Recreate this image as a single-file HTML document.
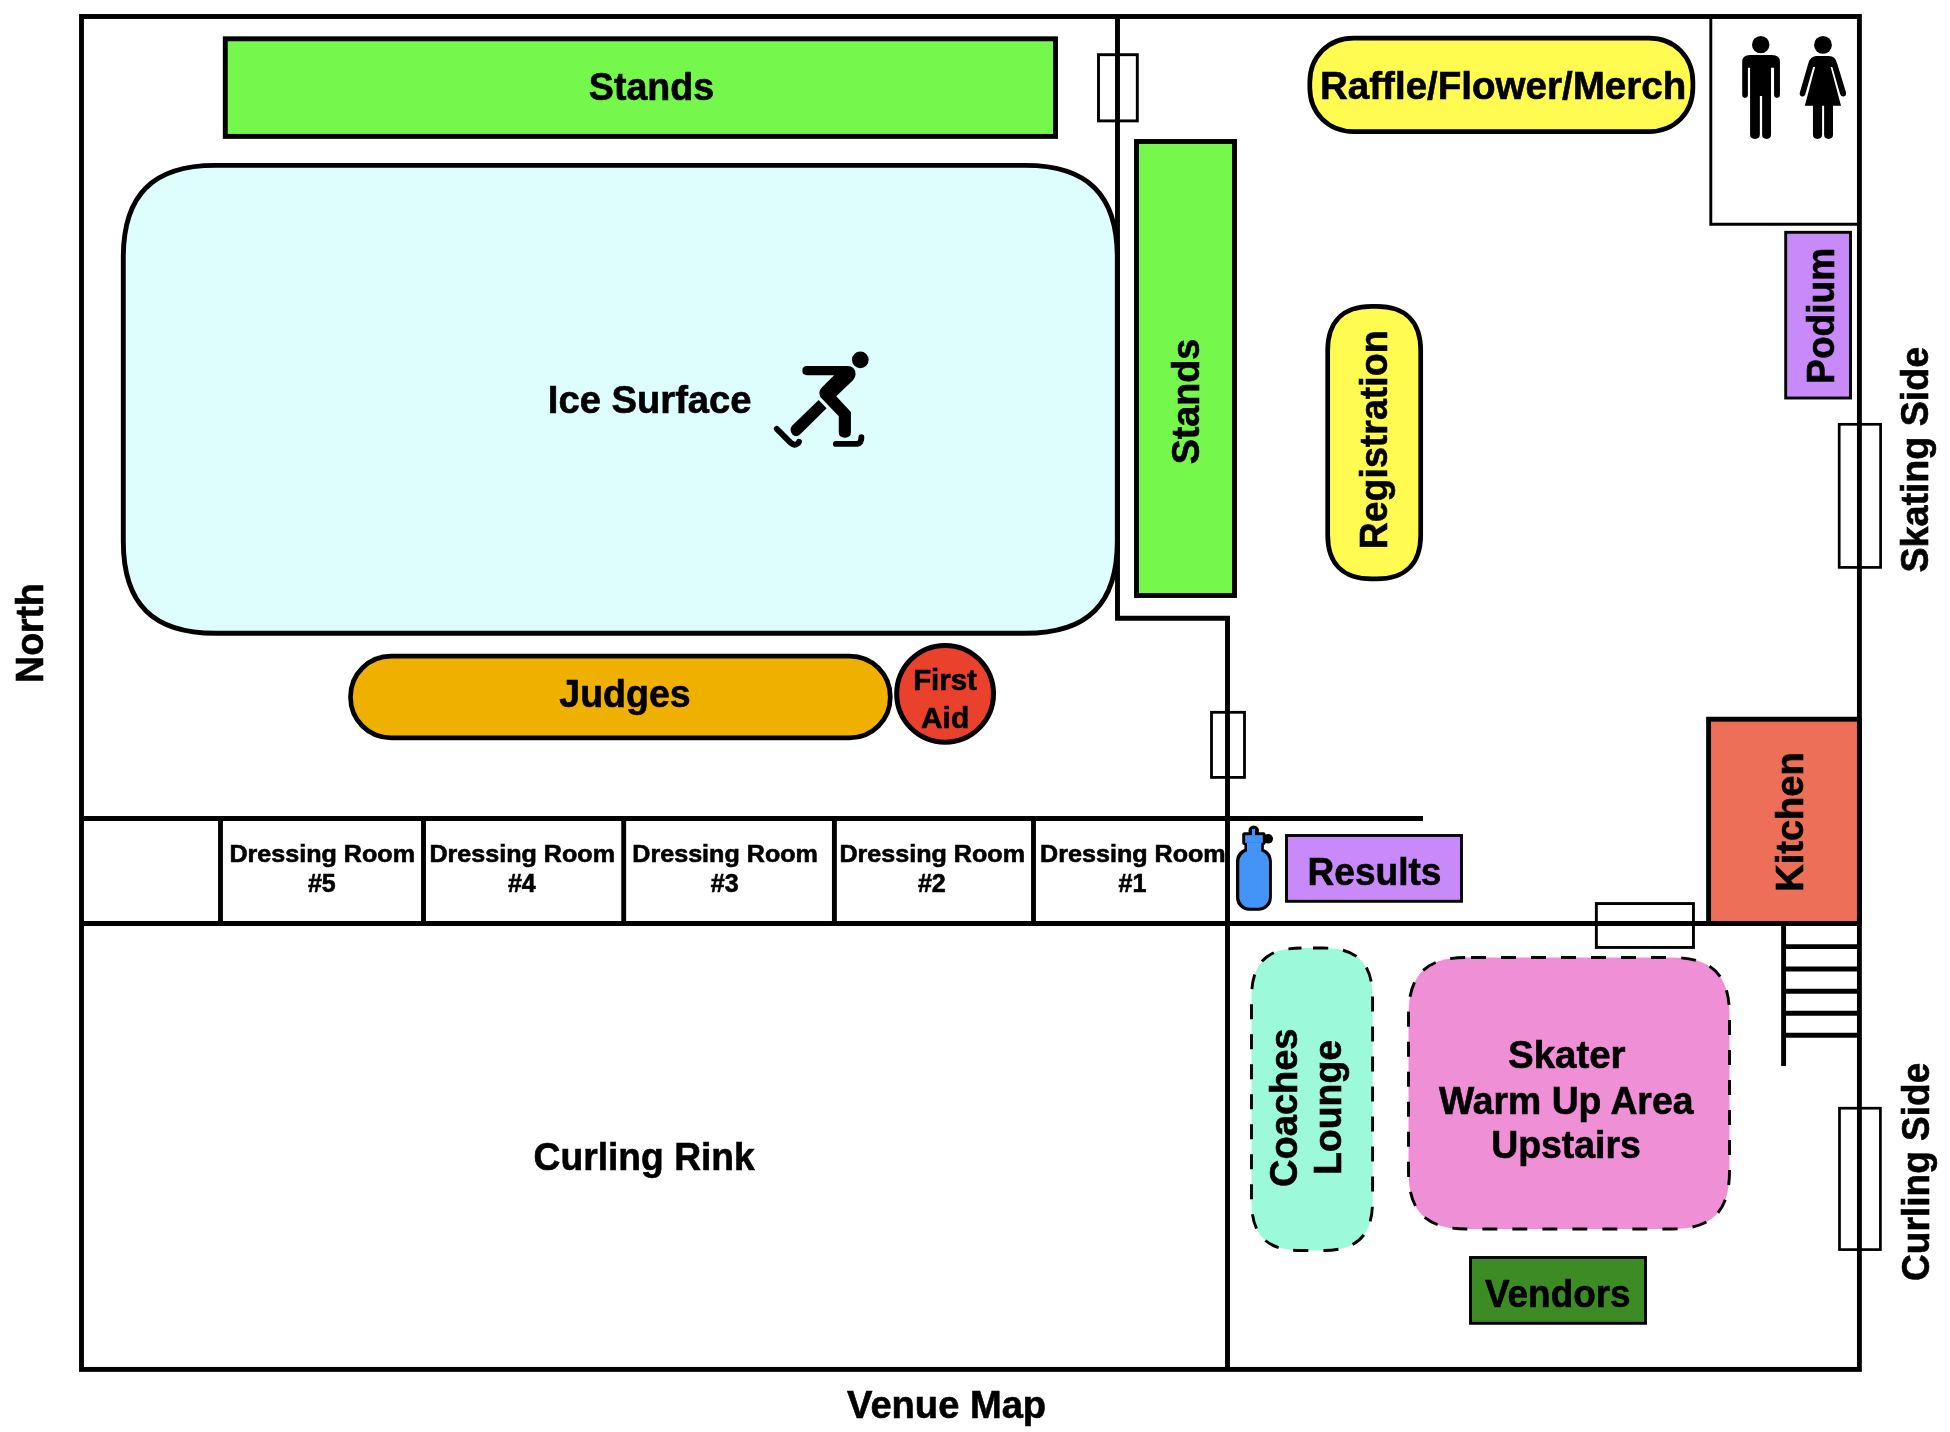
<!DOCTYPE html>
<html><head><meta charset="utf-8">
<style>
html,body{margin:0;padding:0;background:#fff;width:1950px;height:1432px;overflow:hidden}
svg{display:block;will-change:transform}
text{font-family:"Liberation Sans",sans-serif;font-weight:bold;fill:#000;stroke:#000;stroke-width:0.6px}
</style></head><body>
<svg width="1950" height="1432" viewBox="0 0 1950 1432">
<rect x="0" y="0" width="1950" height="1432" fill="#fff" stroke="none"/>

<g fill="none" stroke="#000" stroke-width="4.9" stroke-linecap="butt">
<rect x="81.5" y="16.5" width="1777.9" height="1352.9"/>
<polyline points="1117.5,16 1117.5,618.3 1227.5,618.3 1227.5,1369.4"/>
<line x1="81.5" y1="818.5" x2="1423" y2="818.5"/>
<line x1="81.5" y1="923.5" x2="1859.4" y2="923.5"/>
<line x1="220.5" y1="818.5" x2="220.5" y2="923.5"/>
<line x1="423.5" y1="818.5" x2="423.5" y2="923.5"/>
<line x1="623.7" y1="818.5" x2="623.7" y2="923.5"/>
<line x1="834.4" y1="818.5" x2="834.4" y2="923.5"/>
<line x1="1033.5" y1="818.5" x2="1033.5" y2="923.5"/>
</g>
<rect x="225.3" y="38.8" width="830.2" height="97.60000000000001" fill="#76F74B" stroke="#000" stroke-width="4.9"/>
<text x="651.5" y="99.5" font-size="38" text-anchor="middle" textLength="125.3" lengthAdjust="spacingAndGlyphs">Stands</text>
<rect x="1098.5" y="54.7" width="38.8" height="66.2" fill="none" stroke="#000" stroke-width="2.9"/>
<path d="M215.3,165.4L1025.3,165.4C1087.86,165.4 1117.3,194.84 1117.3,257.4L1117.3,541.2C1117.3,603.76 1087.86,633.2 1025.3,633.2L215.3,633.2C152.74,633.2 123.3,603.76 123.3,541.2L123.3,257.4C123.3,194.84 152.74,165.4 215.3,165.4Z" fill="#DEFEFE" stroke="#000" stroke-width="4.9"/>
<text x="649.7" y="412.8" font-size="38" text-anchor="middle" textLength="203.8" lengthAdjust="spacingAndGlyphs">Ice Surface</text>
<g transform="translate(760,340) scale(0.0838)" fill="#000">
  <circle cx="1197" cy="237" r="100"/>
  <path d="M560,310 L1040,310 Q1140,310 1140,410 Q1140,450 1110,480 L910,670 L1085,860 L1085,1100 Q1085,1165 1012,1165 Q940,1165 940,1100 L940,910 L720,680 Q690,620 740,565 L885,420 L560,420 Q505,420 505,365 Q505,310 560,310 Z"/>
  <path d="M700,715 L795,815 L480,1125 Q430,1170 385,1125 Q345,1070 385,1020 Z"/>
  <path d="M200,1060 L370,1230 Q410,1265 450,1235 Q462,1225 465,1215" fill="none" stroke="#000" stroke-width="70" stroke-linecap="round" stroke-linejoin="round"/>
  <path d="M905,1240 L1160,1240 Q1210,1230 1210,1160" fill="none" stroke="#000" stroke-width="70" stroke-linecap="round" stroke-linejoin="round"/>
</g>
<rect x="1136.5" y="141.5" width="98.0" height="454.0" fill="#76F74B" stroke="#000" stroke-width="4.9"/>
<text transform="translate(1199,401.5) rotate(-90)" x="0" y="0" font-size="38" text-anchor="middle" textLength="125.6" lengthAdjust="spacingAndGlyphs">Stands</text>
<path d="M1353.8,38.2L1648.9,38.2C1674.42,38.2 1692.9,56.68 1692.9,82.2L1692.9,87.6C1692.9,113.12 1674.42,131.6 1648.9,131.6L1353.8,131.6C1328.28,131.6 1309.8,113.12 1309.8,87.6L1309.8,82.2C1309.8,56.68 1328.28,38.2 1353.8,38.2Z" fill="#FFFB50" stroke="#000" stroke-width="4.7"/>
<text x="1503.1" y="99" font-size="38" text-anchor="middle" textLength="366.2" lengthAdjust="spacingAndGlyphs">Raffle/Flower/Merch</text>
<path d="M1371.7,306.3L1376.7,306.3C1405.3,306.3 1420.7,321.7 1420.7,350.3L1420.7,534.9C1420.7,563.5 1405.3,578.9 1376.7,578.9L1371.7,578.9C1343.1,578.9 1327.7,563.5 1327.7,534.9L1327.7,350.3C1327.7,321.7 1343.1,306.3 1371.7,306.3Z" fill="#FFFB50" stroke="#000" stroke-width="4.7"/>
<text transform="translate(1387,439.9) rotate(-90)" x="0" y="0" font-size="38" text-anchor="middle" textLength="218.9" lengthAdjust="spacingAndGlyphs">Registration</text>
<polyline points="1859,224.2 1710.8,224.2 1710.8,16" fill="none" stroke="#000" stroke-width="2.9"/>
<g transform="translate(1730,25) scale(0.0873)" fill="#000">
  <circle cx="352" cy="225" r="100"/>
  <path d="M140,420 Q140,345 230,345 L480,345 Q572,345 572,420 L572,800 Q572,835 538,835 Q505,835 505,800 L505,490 L470,490 L470,1255 Q470,1305 419,1305 Q368,1305 368,1255 L368,812 L342,812 L342,1255 Q342,1305 286,1305 Q230,1305 230,1255 L230,490 L205,490 L205,800 Q205,835 172,835 Q140,835 140,800 Z"/>
  <circle cx="1065" cy="228" r="102"/>
  <path d="M900,430 Q925,355 990,355 L1135,355 Q1205,355 1228,440 L1328,770 Q1338,812 1300,818 Q1272,820 1262,792 L1172,482 L1153,482 L1272,925 L857,925 L975,482 L952,482 L862,795 Q852,822 825,818 Q792,812 800,772 Z"/>
  <path d="M950,900 L1055,900 L1055,1255 Q1055,1305 1002,1305 Q950,1305 950,1255 Z"/>
  <path d="M1078,900 L1180,900 L1180,1255 Q1180,1305 1129,1305 Q1078,1305 1078,1255 Z"/>
</g>
<rect x="1785.7" y="232.3" width="64.8" height="165.7" fill="#C88AF8" stroke="#000" stroke-width="2.9"/>
<text transform="translate(1834,315.8) rotate(-90)" x="0" y="0" font-size="38" text-anchor="middle" textLength="136.2" lengthAdjust="spacingAndGlyphs">Podium</text>
<rect x="1839.2" y="424.3" width="41.4" height="143.1" fill="none" stroke="#000" stroke-width="2.7"/>
<text transform="translate(1928,459.7) rotate(-90)" x="0" y="0" font-size="38" text-anchor="middle" textLength="225.6" lengthAdjust="spacingAndGlyphs">Skating Side</text>
<path d="M391.3,656.2L849.5,656.2C872.35,656.2 890.3,674.15 890.3,697L890.3,697C890.3,719.85 872.35,737.8 849.5,737.8L391.3,737.8C368.45,737.8 350.5,719.85 350.5,697L350.5,697C350.5,674.15 368.45,656.2 391.3,656.2Z" fill="#EFB000" stroke="#000" stroke-width="4.7"/>
<text x="625" y="706.5" font-size="38" text-anchor="middle" textLength="131.3" lengthAdjust="spacingAndGlyphs">Judges</text>
<circle cx="945.1" cy="693.8" r="48.4" fill="#E9412B" stroke="#000" stroke-width="5"/>
<text x="945" y="689.5" font-size="29" text-anchor="middle" textLength="63.7" lengthAdjust="spacingAndGlyphs">First</text>
<text x="945.1" y="727.5" font-size="29" text-anchor="middle" textLength="48.2" lengthAdjust="spacingAndGlyphs">Aid</text>
<rect x="1211.5" y="712.3" width="33" height="65.1" fill="none" stroke="#000" stroke-width="2.8"/>
<text transform="translate(43,633) rotate(-90)" x="0" y="0" font-size="38" text-anchor="middle" textLength="99.8" lengthAdjust="spacingAndGlyphs">North</text>
<text x="322.2" y="861.8" font-size="24" text-anchor="middle" textLength="185.6" lengthAdjust="spacingAndGlyphs">Dressing Room</text>
<text x="321.8" y="891.9" font-size="25" text-anchor="middle">#5</text>
<text x="522.1999999999999" y="861.8" font-size="24" text-anchor="middle" textLength="185.6" lengthAdjust="spacingAndGlyphs">Dressing Room</text>
<text x="521.8" y="891.9" font-size="25" text-anchor="middle">#4</text>
<text x="725.1" y="861.8" font-size="24" text-anchor="middle" textLength="185.6" lengthAdjust="spacingAndGlyphs">Dressing Room</text>
<text x="724.7" y="891.9" font-size="25" text-anchor="middle">#3</text>
<text x="932.1999999999999" y="861.8" font-size="24" text-anchor="middle" textLength="185.6" lengthAdjust="spacingAndGlyphs">Dressing Room</text>
<text x="931.8" y="891.9" font-size="25" text-anchor="middle">#2</text>
<text x="1132.9" y="861.8" font-size="24" text-anchor="middle" textLength="185.6" lengthAdjust="spacingAndGlyphs">Dressing Room</text>
<text x="1132.5" y="891.9" font-size="25" text-anchor="middle">#1</text>
<g transform="translate(1225,815) scale(0.0733)">
  <circle cx="590" cy="325" r="65" fill="#000"/>
  <circle cx="392" cy="215" r="72" fill="#000"/>
  <rect x="235" y="235" width="320" height="175" rx="30" fill="#000"/>
  <rect x="265" y="380" width="265" height="100" fill="#000"/>
  <rect x="150" y="450" width="490" height="855" rx="180" ry="180" fill="#000"/>
  <rect x="195" y="490" width="405" height="775" rx="150" ry="150" fill="#4394F6"/>
  <rect x="300" y="375" width="195" height="140" fill="#4394F6"/>
  <rect x="275" y="275" width="240" height="105" fill="#4394F6"/>
  <rect x="368" y="190" width="42" height="90" fill="#4394F6"/>
</g>
<rect x="1286.5" y="835.5" width="175" height="65.8" fill="#C88AF8" stroke="#000" stroke-width="2.9"/>
<text x="1374.5" y="884.5" font-size="38" text-anchor="middle" textLength="133.8" lengthAdjust="spacingAndGlyphs">Results</text>
<rect x="1708.6" y="719.2" width="150.80000000000018" height="204.29999999999995" fill="#EE6F57" stroke="#000" stroke-width="4.9"/>
<text transform="translate(1803,822) rotate(-90)" x="0" y="0" font-size="38" text-anchor="middle">Kitchen</text>
<rect x="1596.35" y="903.55" width="97.1" height="43.9" fill="none" stroke="#000" stroke-width="2.9"/>
<g stroke="#000" stroke-width="4.9" fill="none"><line x1="1783.6" y1="923" x2="1783.6" y2="1066"/>
<line x1="1783.7" y1="946.6" x2="1859" y2="946.6"/>
<line x1="1783.7" y1="969" x2="1859" y2="969"/>
<line x1="1783.7" y1="991.3" x2="1859" y2="991.3"/>
<line x1="1783.7" y1="1013.3" x2="1859" y2="1013.3"/>
<line x1="1783.7" y1="1035.2" x2="1859" y2="1035.2"/>
</g>
<path d="M1301.5,948L1322.6,948C1357.6,948 1372.6,963 1372.6,998L1372.6,1200.5C1372.6,1235.5 1357.6,1250.5 1322.6,1250.5L1301.5,1250.5C1266.5,1250.5 1251.5,1235.5 1251.5,1200.5L1251.5,998C1251.5,963 1266.5,948 1301.5,948Z" fill="#9CF9D9" stroke="#000" stroke-width="2.9" stroke-dasharray="15,15" stroke-dashoffset="-11.5"/>
<text transform="translate(1297,1107.7) rotate(-90)" x="0" y="0" font-size="38" text-anchor="middle">Coaches</text>
<text transform="translate(1341.3,1107.5) rotate(-90)" x="0" y="0" font-size="38" text-anchor="middle" textLength="135.1" lengthAdjust="spacingAndGlyphs">Lounge</text>
<path d="M1466.5,957.5L1671.5,957.5C1712.1,957.5 1729.5,974.9 1729.5,1015.5L1729.5,1171C1729.5,1211.6 1712.1,1229 1671.5,1229L1466.5,1229C1425.9,1229 1408.5,1211.6 1408.5,1171L1408.5,1015.5C1408.5,974.9 1425.9,957.5 1466.5,957.5Z" fill="#EF90D6" stroke="#000" stroke-width="2.9" stroke-dasharray="15,15" stroke-dashoffset="-4.5"/>
<text x="1566.8" y="1068.2" font-size="38" text-anchor="middle" textLength="117.6" lengthAdjust="spacingAndGlyphs">Skater</text>
<text x="1566.2" y="1113.6" font-size="38" text-anchor="middle" textLength="254.5" lengthAdjust="spacingAndGlyphs">Warm Up Area</text>
<text x="1566" y="1157.7" font-size="38" text-anchor="middle" textLength="149.7" lengthAdjust="spacingAndGlyphs">Upstairs</text>
<rect x="1839.5" y="1108.2" width="40.9" height="141.4" fill="none" stroke="#000" stroke-width="2.7"/>
<text transform="translate(1928.9,1171.8) rotate(-90)" x="0" y="0" font-size="38" text-anchor="middle" textLength="218.2" lengthAdjust="spacingAndGlyphs">Curling Side</text>
<rect x="1470.5" y="1257.5" width="175" height="65.8" fill="#3D8B25" stroke="#000" stroke-width="2.9"/>
<text x="1557.8" y="1307.2" font-size="38" text-anchor="middle" textLength="145.6" lengthAdjust="spacingAndGlyphs">Vendors</text>
<text x="644.2" y="1170" font-size="38" text-anchor="middle" textLength="221.2" lengthAdjust="spacingAndGlyphs">Curling Rink</text>
<text x="946.6" y="1417.5" font-size="38" text-anchor="middle" textLength="199" lengthAdjust="spacingAndGlyphs">Venue Map</text>
</svg>
</body></html>
